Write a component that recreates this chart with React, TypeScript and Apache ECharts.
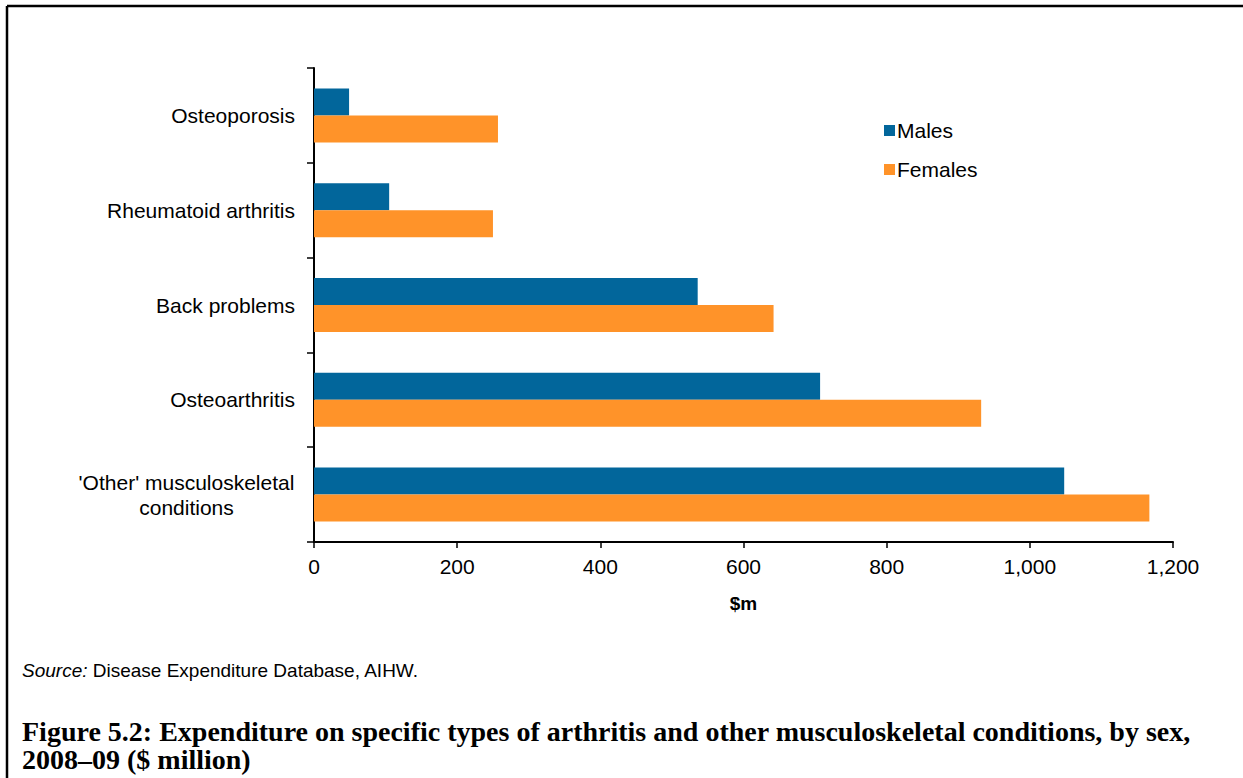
import React, { useEffect, useRef } from "react";
import * as echarts from "echarts";

const categories = [
  "Osteoporosis",
  "Rheumatoid arthritis",
  "Back problems",
  "Osteoarthritis",
  "'Other' musculoskeletal\nconditions",
];
const males = [49, 105, 536, 707, 1048];
const females = [257, 250, 642, 932, 1167];
const xTicks = { min: 0, max: 1200, interval: 200 };

const MALE_COLOR = "#02669b";
const FEMALE_COLOR = "#ff9329";

export default function App() {
  const ref = useRef<HTMLDivElement>(null);
  useEffect(() => {
    if (!ref.current) return;
    const chart = echarts.init(ref.current, null, { renderer: "svg" });
    chart.setOption({
      animation: false,
      backgroundColor: "#ffffff",
      textStyle: { fontFamily: "Liberation Sans, Arial, sans-serif" },
      grid: { left: 314, right: 70, top: 68, bottom: 236, containLabel: false },
      legend: {
        orient: "vertical",
        left: 879,
        top: 115,
        itemWidth: 11,
        itemHeight: 11,
        itemGap: 18,
        icon: "rect",
        textStyle: { fontSize: 21, color: "#000", padding: [0, 0, 0, -3] },
        data: ["Males", "Females"],
      },
      xAxis: {
        type: "value",
        min: xTicks.min,
        max: xTicks.max,
        interval: xTicks.interval,
        name: "$m",
        nameLocation: "middle",
        nameGap: 52,
        nameTextStyle: { fontSize: 19, fontWeight: "bold", color: "#000" },
        axisLine: { show: true, lineStyle: { color: "#000", width: 2 } },
        axisTick: { show: true, length: 6, lineStyle: { color: "#000", width: 1.5 } },
        axisLabel: {
          fontSize: 21,
          color: "#000",
          margin: 14,
          formatter: (v: number) => v.toLocaleString("en-US"),
        },
        splitLine: { show: false },
      },
      yAxis: {
        type: "category",
        data: categories,
        inverse: true,
        axisLine: { show: true, lineStyle: { color: "#000", width: 2 } },
        axisTick: { show: true, length: 7, lineStyle: { color: "#000", width: 1.5 } },
        axisLabel: {
          fontSize: 21,
          color: "#000",
          margin: 19,
          lineHeight: 25,
          formatter: (v: string) =>
            v.includes("\n")
              ? v
                  .split("\n")
                  .map((l) => "{c|" + l + "}")
                  .join("\n")
              : v,
          rich: {
            c: { fontSize: 21, color: "#000", width: 217, align: "center", lineHeight: 25 },
          },
        },
      },
      series: [
        {
          name: "Males",
          type: "bar",
          data: males,
          barGap: "0%",
          barCategoryGap: "43%",
          itemStyle: { color: MALE_COLOR },
        },
        {
          name: "Females",
          type: "bar",
          data: females,
          barGap: "0%",
          barCategoryGap: "43%",
          itemStyle: { color: FEMALE_COLOR },
        },
      ],
      graphic: [
        {
          type: "line",
          shape: { x1: 7, y1: 6, x2: 1243, y2: 6 },
          style: { stroke: "#000", lineWidth: 2.5 },
        },
        {
          type: "line",
          shape: { x1: 7, y1: 6, x2: 7, y2: 778 },
          style: { stroke: "#000", lineWidth: 2.5 },
        },
        {
          type: "text",
          left: 22,
          top: 661,
          style: {
            text: "{i|Source:} Disease Expenditure Database, AIHW.",
            font: "19px Liberation Sans",
            fill: "#000",
            rich: {
              i: { fontStyle: "italic", fontSize: 19, fontFamily: "Liberation Sans", fill: "#000" },
            },
          },
        },
        {
          type: "text",
          left: 22,
          top: 717,
          style: {
            text:
              "Figure 5.2: Expenditure on specific types of arthritis and other musculoskeletal conditions, by sex,\n2008–09 ($ million)",
            font: "bold 28px Liberation Serif",
            lineHeight: 28,
            fill: "#000",
          },
        },
      ],
    });
    return () => chart.dispose();
  }, []);
  return (
    <div
      ref={ref}
      style={{ position: "fixed", left: 0, top: 0, width: 1243, height: 778 }}
    />
  );
}
